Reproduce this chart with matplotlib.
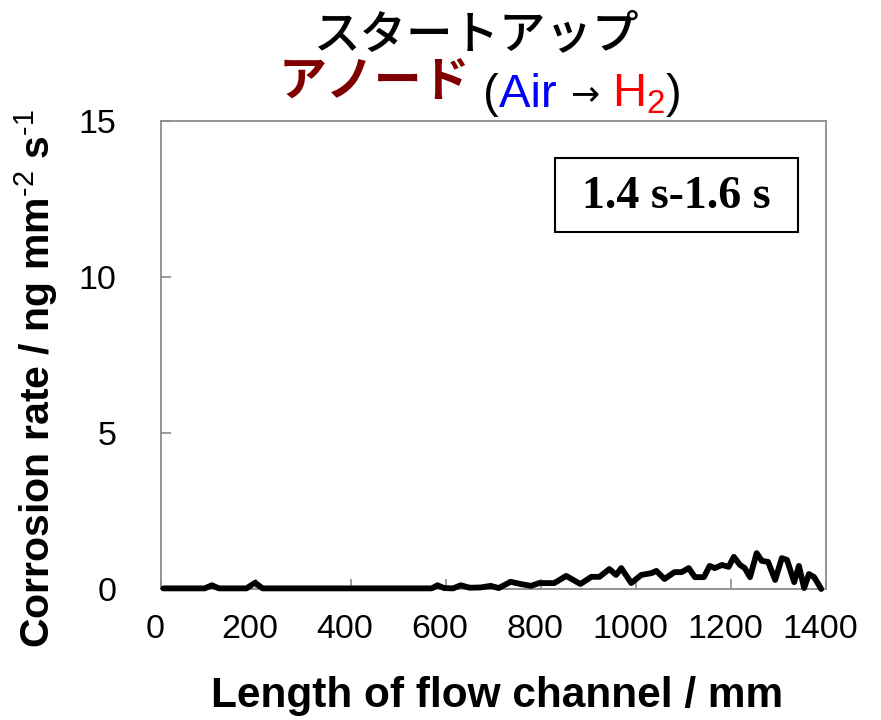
import matplotlib
matplotlib.use("Agg")
import matplotlib.pyplot as plt
import matplotlib.transforms as mtransforms
from matplotlib.patches import Rectangle

length_mm = [5, 60, 92, 107, 122, 180, 198, 214, 300, 400, 500, 570, 582, 596,
             615, 631, 650, 673, 694, 711, 736, 757, 779, 796, 828, 853, 883,
             906, 923, 944, 958, 969, 990, 1011, 1033, 1043, 1060, 1081, 1096,
             1111, 1124, 1143, 1155, 1166, 1181, 1195, 1206, 1219, 1229, 1240,
             1254, 1265, 1278, 1293, 1307, 1318, 1333, 1343, 1354, 1364, 1375,
             1390]
rate = [0.02, 0.02, 0.02, 0.12, 0.02, 0.02, 0.20, 0.02, 0.02, 0.02, 0.02, 0.02,
        0.12, 0.03, 0.02, 0.12, 0.04, 0.05, 0.10, 0.03, 0.23, 0.16, 0.10, 0.19,
        0.19, 0.42, 0.16, 0.39, 0.39, 0.64, 0.45, 0.67, 0.19, 0.45, 0.51, 0.58,
        0.32, 0.54, 0.54, 0.67, 0.38, 0.38, 0.74, 0.67, 0.77, 0.71, 1.03, 0.77,
        0.67, 0.38, 1.15, 0.90, 0.87, 0.29, 0.99, 0.93, 0.22, 0.74, 0.03, 0.48,
        0.38, 0.0]
xticks = [0, 200, 400, 600, 800, 1000, 1200, 1400]
yticks = [0, 5, 10, 15]
period_label = "1.4 s-1.6 s"

plt.rcParams["mathtext.fontset"] = "custom"
plt.rcParams["mathtext.rm"] = "Liberation Sans"
plt.rcParams["mathtext.bf"] = "Liberation Sans:bold"
plt.rcParams["mathtext.default"] = "regular"

W, H = 881, 720
fig = plt.figure(figsize=(W / 100, H / 100), dpi=100)
ax = fig.add_axes([161 / W, 1 - 589 / H, 665 / W, 468 / H])

sans = ["Liberation Sans", "DejaVu Sans"]
cjk = ["Noto Sans CJK JP", "DejaVu Sans"]

ax.plot(length_mm, rate, color="black", lw=4.2, solid_joinstyle="round",
        solid_capstyle="round", clip_on=False, zorder=5)
ax.set_xlim(0, 1400)
ax.set_ylim(0, 15)
ax.set_xticks(xticks)
ax.set_yticks(yticks)
for s in ax.spines.values():
    s.set_color("#8c8c8c")
    s.set_linewidth(1.3)
ax.tick_params(direction="in", length=7, width=1.2, color="#8c8c8c",
               labelsize=24.5, top=False, right=False)
ax.tick_params(axis="x", pad=18)
ax.tick_params(axis="y", pad=32)
for lab in ax.get_xticklabels() + ax.get_yticklabels():
    lab.set_family(sans)
shift = mtransforms.ScaledTranslation(-6 / 100, 0, fig.dpi_scale_trans)
for lab in ax.get_xticklabels():
    lab.set_transform(lab.get_transform() + shift)

ax.set_xlabel("Length of flow channel / mm", fontsize=30.5, fontweight="bold",
              family=sans)
ax.xaxis.set_label_coords(0.505, -0.185)
ax.set_ylabel(r"Corrosion rate / ng mm$^{\text{-2}}$ s$^{\text{-1}}$",
              fontsize=29.5, fontweight="bold", family=sans)
ax.yaxis.set_label_coords(-0.152, 0.45)

# period box
ax.add_patch(Rectangle((0.592, 0.763), 0.366, 0.158, transform=ax.transAxes,
                       fill=False, edgecolor="black", lw=1.5, zorder=6))
ax.text(0.775, 0.838, period_label, transform=ax.transAxes, ha="center",
        va="center", fontsize=33, fontweight="bold",
        family=["Liberation Serif", "DejaVu Serif"], zorder=7)

# title, line 1
fig.text(477 / W, 1 - 48 / H, "スタートアップ", ha="center", va="baseline",
         fontsize=33.5, family=cjk, fontweight="medium")

# title, line 2 built from coloured pieces: text, colour, family, weight, size, baseline px
parts = [
    ("アノード", "#800000", cjk, "bold", 34.5, 96),
    (" (", "black", sans, "normal", 34, 107),
    ("Air ", "blue", sans, "normal", 34, 107),
    ("→", "black", ["DejaVu Sans"], "normal", 25, 104),
    (" ", "black", sans, "normal", 34, 107),
    ("H$_2$", "red", sans, "normal", 34, 107),
    (")", "black", sans, "normal", 34, 107),
]
fig.canvas.draw()
r = fig.canvas.get_renderer()
texts = []
widths = []
for s, c, fam, w, size, yb in parts:
    t = fig.text(0, 1 - yb / H, s, color=c, family=fam, fontweight=w,
                 fontsize=size, va="baseline", ha="left")
    texts.append(t)
    widths.append(t.get_window_extent(r).width)
x = 480 - sum(widths) / 2
for t, wd in zip(texts, widths):
    t.set_x(x / W)
    x += wd

fig.savefig("out.png", dpi=100)
